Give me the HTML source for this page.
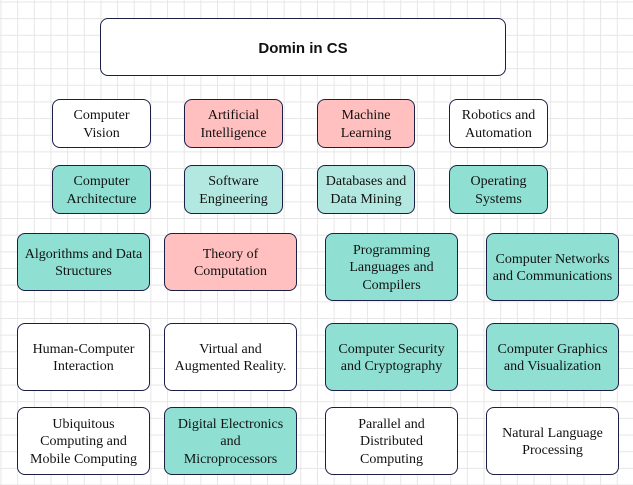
<!DOCTYPE html>
<html><head><meta charset="utf-8"><style>
html,body{margin:0;padding:0}
body{width:633px;height:485px;position:relative;overflow:hidden;background-color:#fff;
background-image:linear-gradient(to right,#e6e6e6 1px,transparent 1px),linear-gradient(to bottom,#e6e6e6 1px,transparent 1px);
background-size:16.67px 16.67px;background-position:0.5px 1.5px;font-family:"Liberation Serif",serif;}
.b{position:absolute;box-sizing:border-box;border:1.3px solid #1b1f45;border-radius:8px;display:flex;align-items:center;justify-content:center;text-align:center;font-size:14px;line-height:17.5px;color:#111;background:#fff;padding:2px 2px 0}
.t{background:#8fe0d3}.l{background:#b3e8e0}.p{background:#ffc0bf}
.h{font-family:"Liberation Sans",sans-serif;font-weight:bold;font-size:15px;padding:4px 0 0}
</style></head><body>
<div class="b h" style="left:100px;top:18px;width:406px;height:58px">Domin in CS</div>

<div class="b" style="left:52px;top:99px;width:99px;height:49px">Computer<br>Vision</div>
<div class="b p" style="left:184px;top:99px;width:99px;height:49px">Artificial<br>Intelligence</div>
<div class="b p" style="left:317px;top:99px;width:98px;height:49px">Machine<br>Learning</div>
<div class="b" style="left:449px;top:99px;width:99px;height:49px">Robotics and<br>Automation</div>

<div class="b t" style="left:52px;top:165px;width:99px;height:49px">Computer<br>Architecture</div>
<div class="b l" style="left:184px;top:165px;width:99px;height:49px">Software<br>Engineering</div>
<div class="b l" style="left:317px;top:165px;width:98px;height:49px">Databases and<br>Data Mining</div>
<div class="b t" style="left:449px;top:165px;width:99px;height:49px">Operating<br>Systems</div>

<div class="b t" style="left:17px;top:233px;width:133px;height:58px">Algorithms and Data<br>Structures</div>
<div class="b p" style="left:164px;top:233px;width:133px;height:58px">Theory of<br>Computation</div>
<div class="b t" style="left:325px;top:233px;width:133px;height:68px">Programming<br>Languages and<br>Compilers</div>
<div class="b t" style="left:486px;top:233px;width:133px;height:68px">Computer Networks<br>and Communications</div>

<div class="b" style="left:17px;top:323px;width:133px;height:68px">Human-Computer<br>Interaction</div>
<div class="b" style="left:164px;top:323px;width:133px;height:68px">Virtual and<br>Augmented Reality.</div>
<div class="b t" style="left:325px;top:323px;width:133px;height:68px">Computer Security<br>and Cryptography</div>
<div class="b t" style="left:486px;top:323px;width:133px;height:68px">Computer Graphics<br>and Visualization</div>

<div class="b" style="left:17px;top:407px;width:133px;height:68px">Ubiquitous<br>Computing and<br>Mobile Computing</div>
<div class="b t" style="left:164px;top:407px;width:133px;height:68px">Digital Electronics<br>and<br>Microprocessors</div>
<div class="b" style="left:325px;top:407px;width:133px;height:68px">Parallel and<br>Distributed<br>Computing</div>
<div class="b" style="left:486px;top:407px;width:133px;height:68px">Natural Language<br>Processing</div>
</body></html>
